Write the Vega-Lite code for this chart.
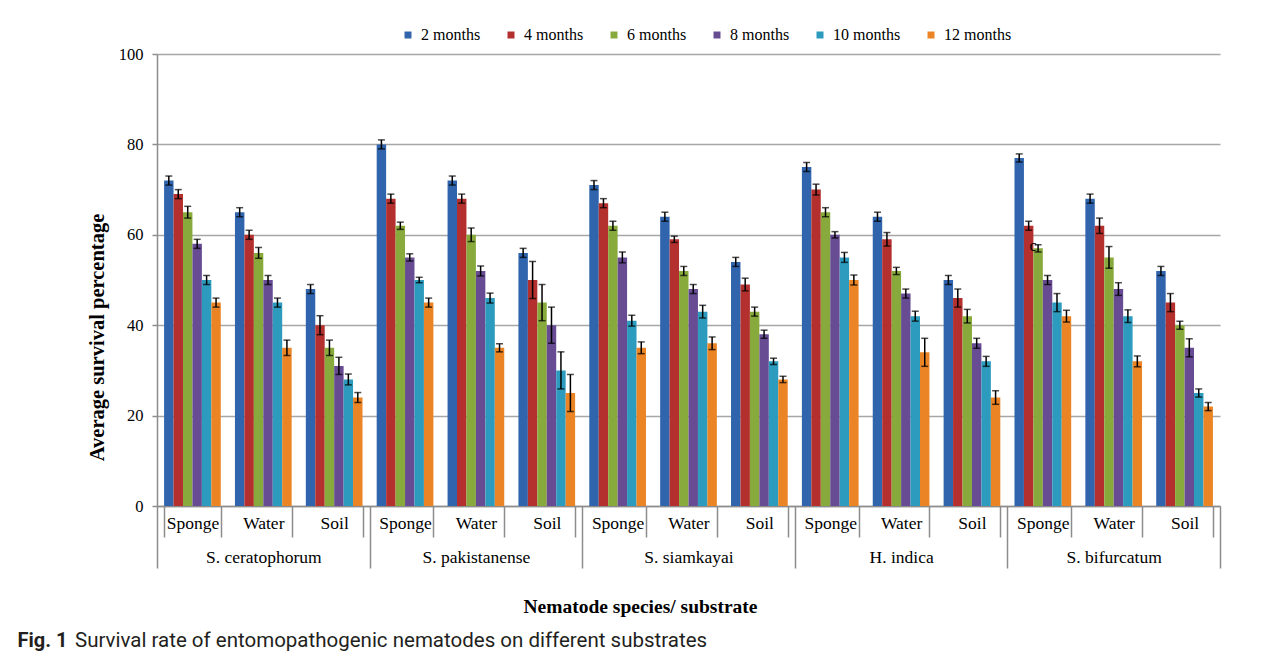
{
  "$schema": "https://vega.github.io/schema/vega-lite/v6.json",
  "autosize": {"type": "none"},
  "width": 1063,
  "height": 452,
  "padding": {"left": 157, "top": 54, "right": 62, "bottom": 154},
  "background": "white",
  "title": {
    "text": "Survival rate of entomopathogenic nematodes on different substrates",
    "orient": "bottom",
    "anchor": "start",
    "frame": "group",
    "dx": -82,
    "offset": -19,
    "font": "Roboto",
    "fontSize": 20.5,
    "fontWeight": "normal",
    "color": "#231f20"
  },
  "config": {
    "font": "Liberation Serif",
    "view": {"stroke": null},
    "legend": {"padding": 0}
  },
  "data": {
    "values": [
      {"sp":"S. ceratophorum","g":"S. ceratophorum/Sponge","m":"2 months","v":72,"lo":71,"hi":73},
      {"sp":"S. ceratophorum","g":"S. ceratophorum/Sponge","m":"4 months","v":69,"lo":68,"hi":70},
      {"sp":"S. ceratophorum","g":"S. ceratophorum/Sponge","m":"6 months","v":65,"lo":63.7,"hi":66.3},
      {"sp":"S. ceratophorum","g":"S. ceratophorum/Sponge","m":"8 months","v":58,"lo":57,"hi":59},
      {"sp":"S. ceratophorum","g":"S. ceratophorum/Sponge","m":"10 months","v":50,"lo":49,"hi":51},
      {"sp":"S. ceratophorum","g":"S. ceratophorum/Sponge","m":"12 months","v":45,"lo":44,"hi":46},
      {"sp":"S. ceratophorum","g":"S. ceratophorum/Water","m":"2 months","v":65,"lo":64,"hi":66},
      {"sp":"S. ceratophorum","g":"S. ceratophorum/Water","m":"4 months","v":60,"lo":59,"hi":61},
      {"sp":"S. ceratophorum","g":"S. ceratophorum/Water","m":"6 months","v":56,"lo":54.8,"hi":57.2},
      {"sp":"S. ceratophorum","g":"S. ceratophorum/Water","m":"8 months","v":50,"lo":49,"hi":51},
      {"sp":"S. ceratophorum","g":"S. ceratophorum/Water","m":"10 months","v":45,"lo":44,"hi":46},
      {"sp":"S. ceratophorum","g":"S. ceratophorum/Water","m":"12 months","v":35,"lo":33.3,"hi":36.7},
      {"sp":"S. ceratophorum","g":"S. ceratophorum/Soil","m":"2 months","v":48,"lo":47,"hi":49},
      {"sp":"S. ceratophorum","g":"S. ceratophorum/Soil","m":"4 months","v":40,"lo":37.9,"hi":42.1},
      {"sp":"S. ceratophorum","g":"S. ceratophorum/Soil","m":"6 months","v":35,"lo":33.3,"hi":36.7},
      {"sp":"S. ceratophorum","g":"S. ceratophorum/Soil","m":"8 months","v":31,"lo":29.1,"hi":32.9},
      {"sp":"S. ceratophorum","g":"S. ceratophorum/Soil","m":"10 months","v":28,"lo":26.8,"hi":29.2},
      {"sp":"S. ceratophorum","g":"S. ceratophorum/Soil","m":"12 months","v":24,"lo":22.9,"hi":25.1},
      {"sp":"S. pakistanense","g":"S. pakistanense/Sponge","m":"2 months","v":80,"lo":79,"hi":81},
      {"sp":"S. pakistanense","g":"S. pakistanense/Sponge","m":"4 months","v":68,"lo":67,"hi":69},
      {"sp":"S. pakistanense","g":"S. pakistanense/Sponge","m":"6 months","v":62,"lo":61.2,"hi":62.8},
      {"sp":"S. pakistanense","g":"S. pakistanense/Sponge","m":"8 months","v":55,"lo":54.2,"hi":55.8},
      {"sp":"S. pakistanense","g":"S. pakistanense/Sponge","m":"10 months","v":50,"lo":49.4,"hi":50.6},
      {"sp":"S. pakistanense","g":"S. pakistanense/Sponge","m":"12 months","v":45,"lo":44,"hi":46},
      {"sp":"S. pakistanense","g":"S. pakistanense/Water","m":"2 months","v":72,"lo":71,"hi":73},
      {"sp":"S. pakistanense","g":"S. pakistanense/Water","m":"4 months","v":68,"lo":67,"hi":69},
      {"sp":"S. pakistanense","g":"S. pakistanense/Water","m":"6 months","v":60,"lo":58.5,"hi":61.5},
      {"sp":"S. pakistanense","g":"S. pakistanense/Water","m":"8 months","v":52,"lo":50.9,"hi":53.1},
      {"sp":"S. pakistanense","g":"S. pakistanense/Water","m":"10 months","v":46,"lo":44.9,"hi":47.1},
      {"sp":"S. pakistanense","g":"S. pakistanense/Water","m":"12 months","v":35,"lo":34.1,"hi":35.9},
      {"sp":"S. pakistanense","g":"S. pakistanense/Soil","m":"2 months","v":56,"lo":55,"hi":57},
      {"sp":"S. pakistanense","g":"S. pakistanense/Soil","m":"4 months","v":50,"lo":45.9,"hi":54.1},
      {"sp":"S. pakistanense","g":"S. pakistanense/Soil","m":"6 months","v":45,"lo":41,"hi":49},
      {"sp":"S. pakistanense","g":"S. pakistanense/Soil","m":"8 months","v":40,"lo":36,"hi":44},
      {"sp":"S. pakistanense","g":"S. pakistanense/Soil","m":"10 months","v":30,"lo":25.9,"hi":34.1},
      {"sp":"S. pakistanense","g":"S. pakistanense/Soil","m":"12 months","v":25,"lo":20.9,"hi":29.1},
      {"sp":"S. siamkayai","g":"S. siamkayai/Sponge","m":"2 months","v":71,"lo":70,"hi":72},
      {"sp":"S. siamkayai","g":"S. siamkayai/Sponge","m":"4 months","v":67,"lo":66,"hi":68},
      {"sp":"S. siamkayai","g":"S. siamkayai/Sponge","m":"6 months","v":62,"lo":61,"hi":63},
      {"sp":"S. siamkayai","g":"S. siamkayai/Sponge","m":"8 months","v":55,"lo":53.8,"hi":56.2},
      {"sp":"S. siamkayai","g":"S. siamkayai/Sponge","m":"10 months","v":41,"lo":39.8,"hi":42.2},
      {"sp":"S. siamkayai","g":"S. siamkayai/Sponge","m":"12 months","v":35,"lo":33.7,"hi":36.3},
      {"sp":"S. siamkayai","g":"S. siamkayai/Water","m":"2 months","v":64,"lo":63,"hi":65},
      {"sp":"S. siamkayai","g":"S. siamkayai/Water","m":"4 months","v":59,"lo":58.3,"hi":59.7},
      {"sp":"S. siamkayai","g":"S. siamkayai/Water","m":"6 months","v":52,"lo":51,"hi":53},
      {"sp":"S. siamkayai","g":"S. siamkayai/Water","m":"8 months","v":48,"lo":47,"hi":49},
      {"sp":"S. siamkayai","g":"S. siamkayai/Water","m":"10 months","v":43,"lo":41.6,"hi":44.4},
      {"sp":"S. siamkayai","g":"S. siamkayai/Water","m":"12 months","v":36,"lo":34.6,"hi":37.4},
      {"sp":"S. siamkayai","g":"S. siamkayai/Soil","m":"2 months","v":54,"lo":53,"hi":55},
      {"sp":"S. siamkayai","g":"S. siamkayai/Soil","m":"4 months","v":49,"lo":47.6,"hi":50.4},
      {"sp":"S. siamkayai","g":"S. siamkayai/Soil","m":"6 months","v":43,"lo":42,"hi":44},
      {"sp":"S. siamkayai","g":"S. siamkayai/Soil","m":"8 months","v":38,"lo":37.1,"hi":38.9},
      {"sp":"S. siamkayai","g":"S. siamkayai/Soil","m":"10 months","v":32,"lo":31.3,"hi":32.7},
      {"sp":"S. siamkayai","g":"S. siamkayai/Soil","m":"12 months","v":28,"lo":27.3,"hi":28.7},
      {"sp":"H. indica","g":"H. indica/Sponge","m":"2 months","v":75,"lo":74,"hi":76},
      {"sp":"H. indica","g":"H. indica/Sponge","m":"4 months","v":70,"lo":68.8,"hi":71.2},
      {"sp":"H. indica","g":"H. indica/Sponge","m":"6 months","v":65,"lo":64,"hi":66},
      {"sp":"H. indica","g":"H. indica/Sponge","m":"8 months","v":60,"lo":59.3,"hi":60.7},
      {"sp":"H. indica","g":"H. indica/Sponge","m":"10 months","v":55,"lo":53.9,"hi":56.1},
      {"sp":"H. indica","g":"H. indica/Sponge","m":"12 months","v":50,"lo":48.9,"hi":51.1},
      {"sp":"H. indica","g":"H. indica/Water","m":"2 months","v":64,"lo":63,"hi":65},
      {"sp":"H. indica","g":"H. indica/Water","m":"4 months","v":59,"lo":57.5,"hi":60.5},
      {"sp":"H. indica","g":"H. indica/Water","m":"6 months","v":52,"lo":51.2,"hi":52.8},
      {"sp":"H. indica","g":"H. indica/Water","m":"8 months","v":47,"lo":46,"hi":48},
      {"sp":"H. indica","g":"H. indica/Water","m":"10 months","v":42,"lo":40.9,"hi":43.1},
      {"sp":"H. indica","g":"H. indica/Water","m":"12 months","v":34,"lo":30.9,"hi":37.1},
      {"sp":"H. indica","g":"H. indica/Soil","m":"2 months","v":50,"lo":49,"hi":51},
      {"sp":"H. indica","g":"H. indica/Soil","m":"4 months","v":46,"lo":44,"hi":48},
      {"sp":"H. indica","g":"H. indica/Soil","m":"6 months","v":42,"lo":40.5,"hi":43.5},
      {"sp":"H. indica","g":"H. indica/Soil","m":"8 months","v":36,"lo":34.9,"hi":37.1},
      {"sp":"H. indica","g":"H. indica/Soil","m":"10 months","v":32,"lo":30.9,"hi":33.1},
      {"sp":"H. indica","g":"H. indica/Soil","m":"12 months","v":24,"lo":22.5,"hi":25.5},
      {"sp":"S. bifurcatum","g":"S. bifurcatum/Sponge","m":"2 months","v":77,"lo":76.1,"hi":77.9},
      {"sp":"S. bifurcatum","g":"S. bifurcatum/Sponge","m":"4 months","v":62,"lo":61,"hi":63},
      {"sp":"S. bifurcatum","g":"S. bifurcatum/Sponge","m":"6 months","v":57,"lo":56.2,"hi":57.8,"note":"c"},
      {"sp":"S. bifurcatum","g":"S. bifurcatum/Sponge","m":"8 months","v":50,"lo":49,"hi":51},
      {"sp":"S. bifurcatum","g":"S. bifurcatum/Sponge","m":"10 months","v":45,"lo":43,"hi":47},
      {"sp":"S. bifurcatum","g":"S. bifurcatum/Sponge","m":"12 months","v":42,"lo":40.7,"hi":43.3},
      {"sp":"S. bifurcatum","g":"S. bifurcatum/Water","m":"2 months","v":68,"lo":67,"hi":69},
      {"sp":"S. bifurcatum","g":"S. bifurcatum/Water","m":"4 months","v":62,"lo":60.3,"hi":63.7},
      {"sp":"S. bifurcatum","g":"S. bifurcatum/Water","m":"6 months","v":55,"lo":52.6,"hi":57.4},
      {"sp":"S. bifurcatum","g":"S. bifurcatum/Water","m":"8 months","v":48,"lo":46.6,"hi":49.4},
      {"sp":"S. bifurcatum","g":"S. bifurcatum/Water","m":"10 months","v":42,"lo":40.6,"hi":43.4},
      {"sp":"S. bifurcatum","g":"S. bifurcatum/Water","m":"12 months","v":32,"lo":30.8,"hi":33.2},
      {"sp":"S. bifurcatum","g":"S. bifurcatum/Soil","m":"2 months","v":52,"lo":51,"hi":53},
      {"sp":"S. bifurcatum","g":"S. bifurcatum/Soil","m":"4 months","v":45,"lo":43,"hi":47},
      {"sp":"S. bifurcatum","g":"S. bifurcatum/Soil","m":"6 months","v":40,"lo":39.1,"hi":40.9},
      {"sp":"S. bifurcatum","g":"S. bifurcatum/Soil","m":"8 months","v":35,"lo":33,"hi":37},
      {"sp":"S. bifurcatum","g":"S. bifurcatum/Soil","m":"10 months","v":25,"lo":24.1,"hi":25.9},
      {"sp":"S. bifurcatum","g":"S. bifurcatum/Soil","m":"12 months","v":22,"lo":21.1,"hi":22.9}
    ]
  },
  "resolve": {"scale": {"x": "independent"}, "axis": {"x": "independent"}},
  "layer": [
    {
      "encoding": {
        "x": {
          "field": "g",
          "type": "nominal",
          "sort": null,
          "scale": {"paddingInner": 0.2, "paddingOuter": 0.1},
          "axis": {
            "orient": "bottom",
            "title": "Fig. 1",
            "labelExpr": "split(datum.label, '/')[1]",
            "labelAngle": 0,
            "labelFontSize": 17.5,
            "labelColor": "#000000",
            "labelPadding": -23,
            "tickBand": "extent",
            "tickSize": 31,
            "tickColor": "#8c8c8c",
            "tickWidth": 1.5,
            "domainColor": "#8c8c8c",
            "domainWidth": 1.5,
            "titleX": -140,
            "titleY": 134,
            "titleAlign": "left",
            "titleBaseline": "middle",
            "titleFont": "Roboto",
            "titleFontSize": 20,
            "titleFontWeight": "bold",
            "titleColor": "#231f20"
          }
        },
        "xOffset": {
          "field": "m",
          "type": "nominal",
          "sort": ["2 months","4 months","6 months","8 months","10 months","12 months"],
          "scale": {"paddingInner": 0, "paddingOuter": 0}
        }
      },
      "layer": [
        {
          "mark": {"type": "bar"},
          "encoding": {
            "y": {
              "field": "v",
              "type": "quantitative",
              "scale": {"domain": [0, 100], "nice": false},
              "axis": {
                "title": "Average survival percentage",
                "values": [0, 20, 40, 60, 80, 100],
                "grid": true,
                "gridColor": "#a6a6a6",
                "gridWidth": 1.5,
                "domainColor": "#8c8c8c",
                "domainWidth": 1.5,
                "tickColor": "#8c8c8c",
                "tickWidth": 1.5,
                "tickSize": 5,
                "labelFontSize": 16.5,
                "labelColor": "#000000",
                "labelPadding": 9,
                "titleFontSize": 20.5,
                "titleFontWeight": "bold",
                "titleColor": "#000000",
                "titleX": -60,
                "titleY": 283,
                "titleAngle": 270,
                "titleAlign": "center",
                "titleBaseline": "middle"
              }
            },
            "color": {
              "field": "m",
              "type": "nominal",
              "sort": ["2 months","4 months","6 months","8 months","10 months","12 months"],
              "scale": {
                "domain": ["2 months","4 months","6 months","8 months","10 months","12 months"],
                "range": ["#3064ad", "#b3302e", "#88aa3c", "#674c93", "#2c9bbd", "#ea8424"]
              },
              "legend": {
                "title": null,
                "orient": "none",
                "direction": "horizontal",
                "columns": 6,
                "legendX": 243,
                "legendY": -27,
                "symbolType": "square",
                "symbolSize": 49,
                "symbolStrokeWidth": 0,
                "labelFontSize": 16,
                "labelColor": "#000000",
                "labelOffset": 5,
                "columnPadding": 22
              }
            }
          }
        },
        {
          "mark": {"type": "rule", "color": "#000000", "strokeWidth": 1.5},
          "encoding": {
            "y": {"field": "lo", "type": "quantitative"},
            "y2": {"field": "hi"}
          }
        },
        {
          "mark": {"type": "tick", "color": "#000000", "size": 7, "thickness": 1.5},
          "encoding": {"y": {"field": "lo", "type": "quantitative"}}
        },
        {
          "mark": {"type": "tick", "color": "#000000", "size": 7, "thickness": 1.5},
          "encoding": {"y": {"field": "hi", "type": "quantitative"}}
        },
        {
          "transform": [{"filter": "datum.note"}],
          "mark": {"type": "text", "fontSize": 16, "dx": -5, "dy": -2, "baseline": "middle", "color": "#000000"},
          "encoding": {
            "y": {"field": "v", "type": "quantitative"},
            "text": {"field": "note"}
          }
        }
      ]
    },
    {
      "mark": {"type": "tick", "opacity": 0},
      "encoding": {
        "x": {
          "field": "sp",
          "type": "nominal",
          "sort": null,
          "scale": {"paddingInner": 0, "paddingOuter": 0},
          "axis": {
            "orient": "bottom",
            "title": "Nematode species/ substrate",
            "labelAngle": 0,
            "labelFontSize": 17.5,
            "labelColor": "#000000",
            "labelPadding": -20,
            "tickBand": "extent",
            "tickSize": 62,
            "tickColor": "#8c8c8c",
            "tickWidth": 1.5,
            "domain": false,
            "titleX": 483,
            "titleY": 100,
            "titleAlign": "center",
            "titleBaseline": "middle",
            "titleFontSize": 19.5,
            "titleFontWeight": "bold",
            "titleColor": "#000000"
          }
        }
      }
    }
  ]
}
